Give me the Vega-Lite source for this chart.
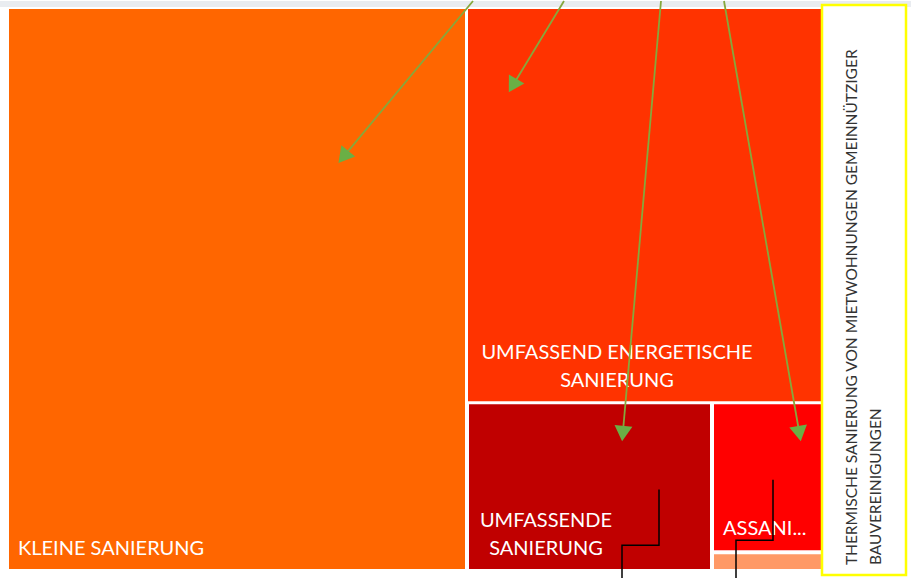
{
  "$schema": "https://vega.github.io/schema/vega-lite/v6.json",
  "width": 911,
  "height": 581,
  "autosize": {"type": "fit", "contains": "padding"},
  "padding": 0,
  "background": "#ffffff",
  "config": {"view": {"stroke": null}},
  "datasets": {
    "tiles": [
      {"name": "Rand", "x0": 0, "x1": 911, "y0": 0, "y1": 6},
      {"name": "Kleine Sanierung", "x0": 9, "x1": 465, "y0": 8, "y1": 572},
      {"name": "Umfassend energetische Sanierung", "x0": 468, "x1": 823, "y0": 8, "y1": 403},
      {"name": "Umfassende Sanierung", "x0": 469, "x1": 710, "y0": 406, "y1": 572},
      {"name": "Assanierung", "x0": 714, "x1": 823, "y0": 406, "y1": 553},
      {"name": "Sonstige", "x0": 714, "x1": 823, "y0": 557, "y1": 572}
    ],
    "box": [{"x0": 822, "x1": 906, "y0": 4, "y1": 578}],
    "labelsLeft": [
      {"x": 18, "y": 558, "text": "KLEINE SANIERUNG"},
      {"x": 723, "y": 538, "text": "ASSANI..."}
    ],
    "labelsCenter": [
      {"x": 617, "y": 360, "text": "UMFASSEND ENERGETISCHE"},
      {"x": 617, "y": 389, "text": "SANIERUNG"},
      {"x": 546, "y": 530, "text": "UMFASSENDE"},
      {"x": 546, "y": 558, "text": "SANIERUNG"}
    ],
    "note": [
      {"x": 852, "y": 568, "text": "THERMISCHE SANIERUNG VON MIETWOHNUNGEN GEMEINNÜTZIGER"},
      {"x": 876, "y": 568, "text": "BAUVEREINIGUNGEN"}
    ],
    "arrows": [
      {"id": "a1", "xs": 473, "ys": 0, "xe": 345, "ye": 155, "dir": 219.4},
      {"id": "a2", "xs": 564, "ys": 0, "xe": 514, "ye": 83, "dir": 210.4},
      {"id": "a3", "xs": 661, "ys": 0, "xe": 623, "ye": 433, "dir": 185},
      {"id": "a4", "xs": 724, "ys": 0, "xe": 799, "ye": 433, "dir": 170.1}
    ],
    "steps": [
      {"id": "s1", "o": 1, "x": 659, "y": 492},
      {"id": "s1", "o": 2, "x": 659, "y": 548},
      {"id": "s1", "o": 3, "x": 622, "y": 548},
      {"id": "s1", "o": 4, "x": 622, "y": 581},
      {"id": "s2", "o": 1, "x": 773, "y": 482},
      {"id": "s2", "o": 2, "x": 773, "y": 543},
      {"id": "s2", "o": 3, "x": 736, "y": 543},
      {"id": "s2", "o": 4, "x": 736, "y": 581}
    ]
  },
  "layer": [
    {
      "data": {"name": "tiles"},
      "mark": {"type": "rect"},
      "encoding": {
        "x": {"field": "x0", "type": "quantitative", "scale": {"domain": [0, 911], "nice": false, "zero": false}, "axis": null},
        "x2": {"field": "x1"},
        "y": {"field": "y0", "type": "quantitative", "scale": {"domain": [0, 581], "nice": false, "zero": false, "reverse": true}, "axis": null},
        "y2": {"field": "y1"},
        "color": {
          "field": "name", "type": "nominal", "legend": null,
          "scale": {
            "domain": ["Rand", "Kleine Sanierung", "Umfassend energetische Sanierung", "Umfassende Sanierung", "Assanierung", "Sonstige"],
            "range": ["#e9ecf0", "#FF6600", "#FF3300", "#C00000", "#FF0000", "#FF9966"]
          }
        }
      }
    },
    {
      "data": {"name": "box"},
      "mark": {"type": "rect", "fill": "#ffffff", "stroke": "#FFFF00", "strokeWidth": 2.5},
      "encoding": {
        "x": {"field": "x0", "type": "quantitative"},
        "x2": {"field": "x1"},
        "y": {"field": "y0", "type": "quantitative"},
        "y2": {"field": "y1"}
      }
    },
    {
      "data": {"name": "labelsLeft"},
      "mark": {"type": "text", "align": "left", "baseline": "alphabetic", "font": "Lato", "fontSize": 20, "color": "#ffffff"},
      "encoding": {
        "x": {"field": "x", "type": "quantitative"},
        "y": {"field": "y", "type": "quantitative"},
        "text": {"field": "text"}
      }
    },
    {
      "data": {"name": "labelsCenter"},
      "mark": {"type": "text", "align": "center", "baseline": "alphabetic", "font": "Lato", "fontSize": 20, "color": "#ffffff"},
      "encoding": {
        "x": {"field": "x", "type": "quantitative"},
        "y": {"field": "y", "type": "quantitative"},
        "text": {"field": "text"}
      }
    },
    {
      "data": {"name": "note"},
      "mark": {"type": "text", "align": "left", "baseline": "middle", "angle": 270, "font": "Lato", "fontSize": 15.5, "color": "#333333"},
      "encoding": {
        "x": {"field": "x", "type": "quantitative"},
        "y": {"field": "y", "type": "quantitative"},
        "text": {"field": "text"}
      }
    },
    {
      "data": {"name": "steps"},
      "mark": {"type": "line", "color": "#000000", "strokeWidth": 1.5, "interpolate": "linear"},
      "encoding": {
        "x": {"field": "x", "type": "quantitative"},
        "y": {"field": "y", "type": "quantitative"},
        "order": {"field": "o", "type": "quantitative"},
        "detail": {"field": "id"}
      }
    },
    {
      "data": {"name": "arrows"},
      "mark": {"type": "rule", "color": "#86A83C", "strokeWidth": 1.8},
      "encoding": {
        "x": {"field": "xs", "type": "quantitative"},
        "y": {"field": "ys", "type": "quantitative"},
        "x2": {"field": "xe"},
        "y2": {"field": "ye"}
      }
    },
    {
      "data": {"name": "arrows"},
      "mark": {"type": "point", "shape": "triangle", "filled": true, "color": "#6AAF45", "size": 320, "opacity": 1},
      "encoding": {
        "x": {"field": "xe", "type": "quantitative"},
        "y": {"field": "ye", "type": "quantitative"},
        "angle": {"field": "dir", "type": "quantitative", "scale": null}
      }
    }
  ]
}
